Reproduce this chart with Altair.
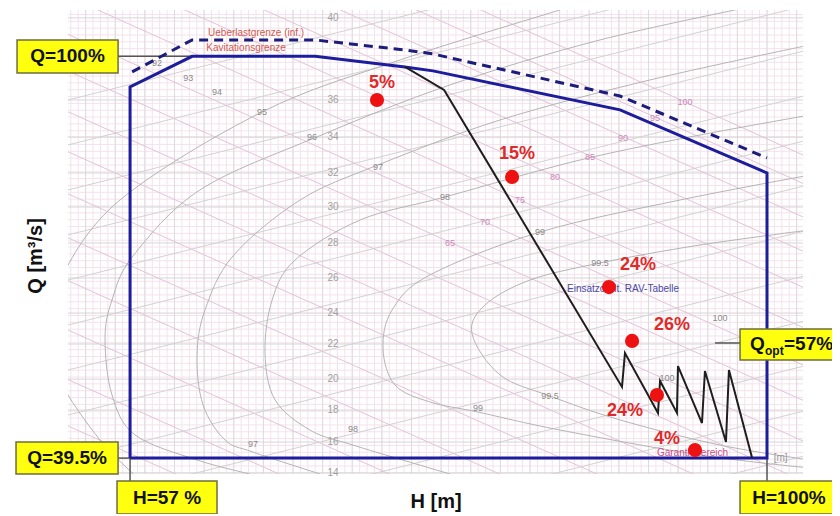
import altair as alt
import pandas as pd
import numpy as np

FONT = "Liberation Sans"

# ---- scale domains (H in % of H_max, Q in m3/s) ----
H_DOMAIN = [52.81, 102.43]
Q_DOMAIN = [14.13, 41.26]

# ---- operating range (solid blue) ----
poly_H = [57.0, 57.0, 61.19, 69.49, 75.56, 77.45, 90.08, 100.0, 100.0, 57.0]
poly_Q = [15.06, 36.76, 38.55, 38.55, 37.93, 37.70, 35.42, 31.73, 15.06, 15.06]

# ---- overload limit (dashed blue) ----
over_H = [57.14, 61.19, 69.49, 75.56, 77.45, 90.08, 100.0]
over_Q = [37.64, 39.51, 39.51, 38.92, 38.69, 36.23, 32.61]

# ---- operating path (black) ----
path_H = [75.56, 78.20, 90.21, 90.41, 92.64, 92.78, 93.92, 93.99, 95.61, 95.81, 97.23, 97.43, 98.99]
path_Q = [37.93, 36.59, 19.22, 21.20, 17.70, 19.57, 17.70, 20.44, 17.11, 20.15, 16.00, 20.21, 15.08]

# ---- red operating points ----
pt_H = [73.67, 82.79, 89.33, 90.89, 92.57, 95.14]
pt_Q = [36.00, 31.50, 25.06, 21.91, 18.75, 15.53]
pt_label = ["5%", "15%", "24%", "26%", "24%", "4%"]
lab_H = [74.01, 83.12, 91.29, 93.59, 90.41, 93.25]
lab_Q = [36.99, 32.84, 26.35, 22.84, 17.81, 16.18]

# ---- Q labels of the hill chart ----
qtick_text = ["40", "36", "34", "32", "30", "28", "26", "24", "22", "20", "18", "16", "14"]
qtick_Q = [40.80, 36.00, 33.84, 31.73, 29.74, 27.64, 25.59, 23.54, 21.73, 19.68, 17.87, 16.00, 14.19]
qtick_H = 70.70

# ---- efficiency contours (eta in %) ----
eff_names = ["95", "96", "97", "98", "99", "99.5"]
eff_H = [
    [57.68, 54.97, 52.27, 51.60, 52.27, 56.32, 65.91, 75.23, 86.03],
    [65.10, 61.52, 57.34, 55.78, 55.31, 55.78, 57.20, 61.72, 69.62, 78.60, 88.73, 99.53],
    [69.83, 65.30, 63.41, 61.93, 61.52, 62.06, 63.95, 68.48, 73.74, 81.98, 92.10, 102.91],
    [78.60, 72.05, 69.15, 66.79, 66.11, 66.59, 68.14, 72.53, 78.26, 87.38, 95.48, 102.91],
    [102.91, 95.48, 86.03, 80.49, 77.25, 74.89, 74.08, 74.69, 77.25, 84.68, 94.13, 102.91],
    [102.91, 96.83, 90.08, 85.35, 81.98, 80.09, 80.96, 84.00, 88.73, 95.48, 102.91],
]
eff_Q = [
    [13.78, 16.12, 19.63, 22.55, 25.47, 30.15, 35.30, 38.34, 41.26],
    [14.13, 14.95, 16.41, 18.75, 22.02, 24.30, 26.88, 30.74, 33.84, 36.88, 39.51, 41.56],
    [14.13, 15.41, 16.12, 18.16, 21.03, 23.72, 26.88, 30.15, 32.20, 34.83, 37.17, 39.22],
    [14.13, 15.82, 16.70, 18.46, 21.20, 24.30, 26.64, 28.98, 30.33, 32.49, 33.95, 35.12],
    [14.48, 15.24, 16.70, 17.75, 18.34, 19.33, 21.44, 23.72, 25.77, 28.28, 30.15, 31.61],
    [14.95, 15.82, 17.29, 18.69, 19.92, 22.32, 24.01, 25.47, 26.47, 27.52, 28.40],
]
eff_lab_text = ["92", "93", "94", "95", "96", "97", "98", "99", "99.5", "100",
                "97", "98", "99", "99.5", "100"]
eff_lab_H = [58.82, 60.92, 62.87, 65.91, 69.29, 73.74, 78.26, 84.68, 88.73, 96.83,
             65.30, 72.05, 80.49, 85.35, 93.25]
eff_lab_Q = [38.16, 37.29, 36.47, 35.30, 33.84, 32.08, 30.33, 28.28, 26.47, 23.25,
             15.88, 16.76, 17.99, 18.69, 19.74]

# ---- guide-vane lines (pink, falling to the right) ----
gv_H = [52.81, 102.43]
gv_Q_start = [52.12, 50.40, 48.39, 46.40, 44.32, 42.05, 39.84, 37.69, 35.31, 32.97, 30.51, 27.94, 25.43, 22.55, 19.65, 16.94]
gv_Q_end = [32.78, 31.12, 29.16, 27.16, 25.05, 22.70, 20.50, 18.44, 16.06, 13.72, 11.26, 8.75, 6.18, 3.29, 0.43, -2.22]
gv_lab_text = ["100", "95", "90", "85", "80", "75", "70", "65"]
gv_lab_H = [94.46, 92.44, 90.28, 88.05, 85.69, 83.33, 80.96, 78.60]
gv_lab_Q = [35.88, 34.95, 33.78, 32.67, 31.50, 30.15, 28.87, 27.64]

# ---- rising lines (grey, rising to the right) ----
rl_Q_start = [36.00, 33.37, 30.74, 28.11, 25.47, 22.84, 20.21, 17.58, 14.95, 12.32, 9.68, 7.05, 4.42]
rl_Q_end = [46.75, 44.11, 41.48, 38.85, 36.22, 33.59, 30.96, 28.32, 25.69, 23.06, 20.43, 17.80, 15.17]

# ---- grid ----
minor_H = list(np.arange(53.0, 102.5, 0.5))
major_H = list(np.arange(54.0, 102.5, 2.0))
minor_Q = list(np.arange(14.2, 41.3, 0.4))
major_Q = qtick_Q

# ---- reference lines (to yellow boxes) ----
ref_H = [56.19, 56.19, 57.0, 100.0, 96.49]
ref_H2 = [61.19, 57.0, 57.0, 100.0, 98.18]
ref_Q = [38.55, 15.06, 15.06, 15.06, 21.79]
ref_Q2 = [38.55, 15.06, 13.72, 13.72, 21.79]

# ---- yellow boxes ----
box_text = ["Q=100%", "Q=39.5%", "H=57 %", "H=100%", ""]
box_H = [49.37, 49.30, 56.12, 98.18, 98.18]
box_H2 = [56.19, 56.19, 62.87, 104.79, 104.79]
box_Q = [39.51, 16.00, 13.72, 13.72, 22.61]
box_Q2 = [37.58, 14.13, 11.79, 11.79, 20.80]

# ---- small annotations ----
ann_text = ["Ueberlastgrenze (inf.)", "Kavitationsgrenze", "Einsatzort lt. RAV-Tabelle", "Garantiebereich", "[m]"]
ann_H = [65.51, 64.83, 86.50, 92.57, 100.45]
ann_Q = [39.92, 39.04, 24.95, 15.36, 15.06]
ann_color = ["#d25a50", "#d25a50", "#4a4aa8", "#c8508a", "#999999"]
ann_align = ["center", "center", "left", "left", "left"]

# ---- axis titles ----
xtitle = {"t": "H [m]", "H": 77.66, "Q": 12.14}
ytitle = {"t": "Q [m³/s]", "H": 51.06, "Q": 26.88}

xs = alt.Scale(domain=H_DOMAIN, nice=False, zero=False)
ys = alt.Scale(domain=Q_DOMAIN, nice=False, zero=False)


def X(f="H"):
    return alt.X(f"{f}:Q", scale=xs, axis=None)


def Y(f="Q"):
    return alt.Y(f"{f}:Q", scale=ys, axis=None)


# background tables
eff_rows = []
for name, hs, qs in zip(eff_names, eff_H, eff_Q):
    for i, (h, q) in enumerate(zip(hs, qs)):
        eff_rows.append({"id": name, "o": i, "H": h, "Q": q})
eff_df = pd.DataFrame(eff_rows)

gv_rows = []
for k, (a, b) in enumerate(zip(gv_Q_start, gv_Q_end)):
    gv_rows += [{"id": k, "o": 0, "H": gv_H[0], "Q": a}, {"id": k, "o": 1, "H": gv_H[1], "Q": b}]
gv_df = pd.DataFrame(gv_rows)

rl_rows = []
for k, (a, b) in enumerate(zip(rl_Q_start, rl_Q_end)):
    rl_rows += [{"id": k, "o": 0, "H": gv_H[0], "Q": a}, {"id": k, "o": 1, "H": gv_H[1], "Q": b}]
rl_df = pd.DataFrame(rl_rows)

grid_minor_v = alt.Chart(pd.DataFrame({"H": minor_H})).mark_rule(color="#f4e2ec", strokeWidth=1).encode(x=X())
grid_minor_h = alt.Chart(pd.DataFrame({"Q": minor_Q})).mark_rule(color="#f4e2ec", strokeWidth=1).encode(y=Y())
grid_major_v = alt.Chart(pd.DataFrame({"H": major_H})).mark_rule(color="#e0dade", strokeWidth=1).encode(x=X())
grid_major_h = alt.Chart(pd.DataFrame({"Q": major_Q})).mark_rule(color="#d6d6d6", strokeWidth=1).encode(y=Y())

rl = alt.Chart(rl_df).mark_line(color="#d2d2d2", strokeWidth=1, clip=True).encode(
    x=X(), y=Y(), detail="id:N", order="o:Q")
gv = alt.Chart(gv_df).mark_line(color="#e4c2d8", strokeWidth=1, clip=True).encode(
    x=X(), y=Y(), detail="id:N", order="o:Q")
eff = alt.Chart(eff_df).mark_line(color="#b4b4b4", strokeWidth=1, clip=True, interpolate="cardinal").encode(
    x=X(), y=Y(), detail="id:N", order="o:Q")
eff_lab = alt.Chart(pd.DataFrame({"t": eff_lab_text, "H": eff_lab_H, "Q": eff_lab_Q})).mark_text(
    font=FONT, fontSize=9, color="#8a8a8a").encode(x=X(), y=Y(), text="t:N")
gv_lab = alt.Chart(pd.DataFrame({"t": gv_lab_text, "H": gv_lab_H, "Q": gv_lab_Q})).mark_text(
    font=FONT, fontSize=9, color="#cc88bb").encode(x=X(), y=Y(), text="t:N")

qticks = alt.Chart(pd.DataFrame({"t": qtick_text, "Q": qtick_Q, "H": [qtick_H] * len(qtick_Q)})).mark_text(
    font=FONT, fontSize=10, color="#a0a0a0").encode(x=X(), y=Y(), text="t:N")

poly = alt.Chart(pd.DataFrame({"H": poly_H, "Q": poly_Q, "o": range(len(poly_H))})).mark_line(
    color="#1c1c9c", strokeWidth=3).encode(x=X(), y=Y(), order="o:Q")
over = alt.Chart(pd.DataFrame({"H": over_H, "Q": over_Q, "o": range(len(over_H))})).mark_line(
    color="#1c1c7c", strokeWidth=3, strokeDash=[9, 6]).encode(x=X(), y=Y(), order="o:Q")
path = alt.Chart(pd.DataFrame({"H": path_H, "Q": path_Q, "o": range(len(path_H))})).mark_line(
    color="#1e1e1e", strokeWidth=2).encode(x=X(), y=Y(), order="o:Q")

refl = alt.Chart(pd.DataFrame({"H": ref_H, "H2": ref_H2, "Q": ref_Q, "Q2": ref_Q2})).mark_rule(
    color="#555555", strokeWidth=1.5).encode(x=X(), x2="H2:Q", y=Y(), y2="Q2:Q")

ann = alt.Chart(pd.DataFrame({"t": ann_text, "H": ann_H, "Q": ann_Q, "c": ann_color, "a": ann_align}))
ann_c = ann.transform_filter("datum.a == 'center'").mark_text(font=FONT, fontSize=10, align="center").encode(
    x=X(), y=Y(), text="t:N", color=alt.Color("c:N", scale=None))
ann_l = ann.transform_filter("datum.a == 'left'").mark_text(font=FONT, fontSize=10, align="left").encode(
    x=X(), y=Y(), text="t:N", color=alt.Color("c:N", scale=None))

pts = alt.Chart(pd.DataFrame({"H": pt_H, "Q": pt_Q})).mark_circle(size=200, color="#ee1111", opacity=1).encode(
    x=X(), y=Y())
ptl = alt.Chart(pd.DataFrame({"t": pt_label, "H": lab_H, "Q": lab_Q})).mark_text(
    font=FONT, fontSize=18, fontWeight="bold", color="#e02a2a").encode(x=X(), y=Y(), text="t:N")

boxes_df = pd.DataFrame({"t": box_text, "H": box_H, "H2": box_H2, "Q": box_Q, "Q2": box_Q2})
boxes_df["Hc"] = (boxes_df["H"] + boxes_df["H2"]) / 2
boxes_df["Qc"] = (boxes_df["Q"] + boxes_df["Q2"]) / 2
boxes = alt.Chart(boxes_df).mark_rect(fill="#ffff10", stroke="#6e6e3c", strokeWidth=1.5).encode(
    x=X(), x2="H2:Q", y=Y(), y2="Q2:Q")
box_txt = alt.Chart(boxes_df).mark_text(font=FONT, fontSize=19, fontWeight="bold", color="#111").encode(
    x=X("Hc"), y=Y("Qc"), text="t:N")

# Q_opt=57% with subscript
qopt_anchor = pd.DataFrame({"H": [98.85], "Q": [21.73]})
qopt1 = alt.Chart(qopt_anchor).mark_text(font=FONT, fontSize=19, fontWeight="bold", color="#111",
                                        align="left", text="Q").encode(x=X(), y=Y())
qopt2 = alt.Chart(qopt_anchor).mark_text(font=FONT, fontSize=12, fontWeight="bold", color="#111",
                                        align="left", text="opt", dx=15, dy=7).encode(x=X(), y=Y())
qopt3 = alt.Chart(qopt_anchor).mark_text(font=FONT, fontSize=19, fontWeight="bold", color="#111",
                                        align="left", text="=57%", dx=34).encode(x=X(), y=Y())

xt = alt.Chart(pd.DataFrame([xtitle])).mark_text(font=FONT, fontSize=20, fontWeight="bold", color="#111",
                                                baseline="alphabetic").encode(x=X(), y=Y(), text="t:N")
yt = alt.Chart(pd.DataFrame([ytitle])).mark_text(font=FONT, fontSize=20, fontWeight="bold", color="#111",
                                                baseline="alphabetic", angle=270).encode(x=X(), y=Y(), text="t:N")

chart = alt.layer(
    grid_minor_v, grid_minor_h, grid_major_v, grid_major_h, rl, gv, eff, eff_lab, gv_lab, qticks,
    refl, over, poly, path, ann_c, ann_l, pts, ptl, boxes, box_txt, qopt1, qopt2, qopt3, xt, yt
).properties(
    width=735, height=464,
    padding={"left": 60, "top": 2, "right": 29, "bottom": 40},
    autosize=alt.AutoSizeParams(type="none"),
    background="white",
).configure_view(stroke=None)

chart.save("out.html", embed_options={"renderer": "svg", "actions": False})
